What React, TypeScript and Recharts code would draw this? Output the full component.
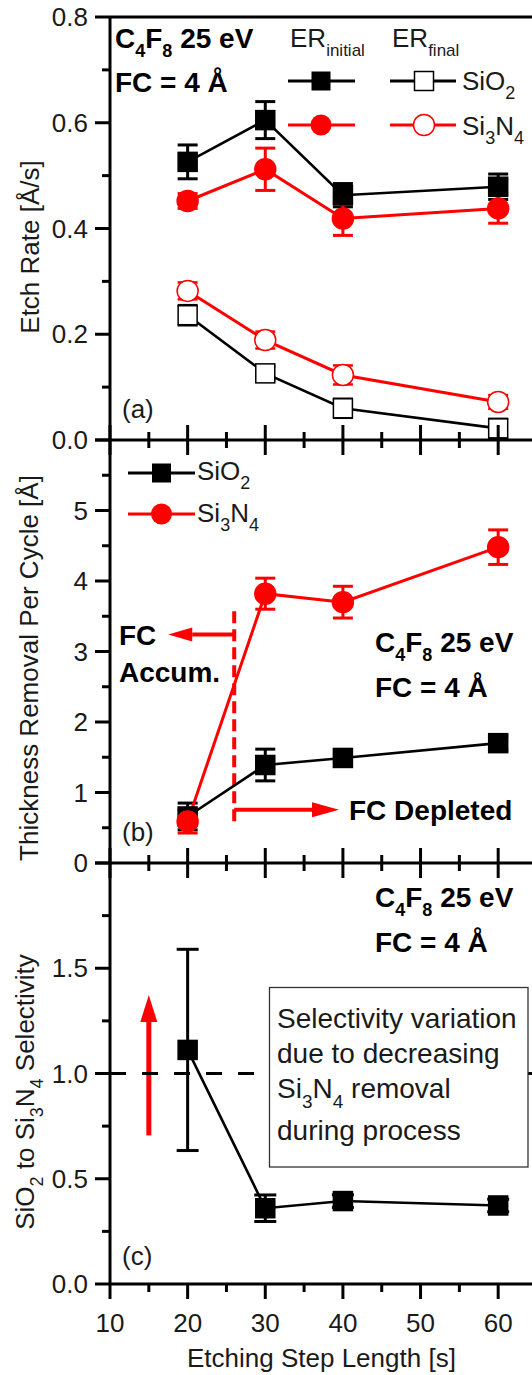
import React from "react";
import { ComposedChart, Line, XAxis, YAxis, ErrorBar, ReferenceLine } from "recharts";

// etching step length [s]
const steps = [20, 30, 40, 60];

// (a) etch rate [Å/s]
const sio2Initial = [0.526, 0.605, 0.463, 0.479];
const sio2InitialErr = [0.032, 0.035, 0.022, 0.024];
const si3n4Initial = [0.452, 0.512, 0.419, 0.438];
const si3n4InitialErr = [0.014, 0.04, 0.032, 0.028];
const sio2Final = [0.236, 0.126, 0.06, 0.022];
const sio2FinalErr = [0.019, 0.013, 0.018, 0.018];
const si3n4Final = [0.282, 0.189, 0.123, 0.072];
const si3n4FinalErr = [0.016, 0.016, 0.018, 0.013];

// (b) thickness removal per cycle [Å]
const sio2Removal = [0.66, 1.39, 1.49, 1.7];
const sio2RemovalErr = [0.19, 0.225, 0.05, 0.1];
const si3n4Removal = [0.59, 3.82, 3.7, 4.48];
const si3n4RemovalErr = [0.165, 0.22, 0.225, 0.245];

// (c) SiO2 to Si3N4 selectivity
const selectivity = [1.112, 0.36, 0.394, 0.373];
const selectivityErr = [0.478, 0.063, 0.03, 0.03];

const xTicks = [10, 15, 20, 25, 30, 35, 40, 45, 50, 55, 60, 65];
const xLabels = [10, 20, 30, 40, 50, 60];
const yTicksA = [0, 0.1, 0.2, 0.3, 0.4, 0.5, 0.6, 0.7, 0.8];
const yLabelsA = [0, 0.2, 0.4, 0.6, 0.8];
const yTicksB = [0, 0.5, 1, 1.5, 2, 2.5, 3, 3.5, 4, 4.5, 5, 5.5, 6];
const yLabelsB = [0, 1, 2, 3, 4, 5];
const yMajorB = [0, 1, 2, 3, 4, 5, 6];
const yTicksC = [0, 0.25, 0.5, 0.75, 1, 1.25, 1.5, 1.75, 2];
const yLabelsC = [0, 0.5, 1, 1.5];
const yMajorC = [0, 0.5, 1, 1.5, 2];

const tableA = steps.map((step, i) => ({
  step,
  sio2Init: sio2Initial[i],
  sio2InitErr: sio2InitialErr[i],
  si3n4Init: si3n4Initial[i],
  si3n4InitErr: si3n4InitialErr[i],
  sio2Fin: sio2Final[i],
  sio2FinErr: sio2FinalErr[i],
  si3n4Fin: si3n4Final[i],
  si3n4FinErr: si3n4FinalErr[i],
}));
const tableB = steps.map((step, i) => ({
  step,
  sio2: sio2Removal[i],
  sio2Err: sio2RemovalErr[i],
  si3n4: si3n4Removal[i],
  si3n4Err: si3n4RemovalErr[i],
}));
const tableC = steps.map((step, i) => ({ step, sel: selectivity[i], selErr: selectivityErr[i] }));

const font = "'Liberation Sans', Arial, sans-serif";
const RED = "#ff0000";
const INK = "#1a1a1a";
const has = (list: number[], v: number) => list.some((l) => Math.abs(l - v) < 1e-6);

const xTick = (cross: boolean, labels: boolean) => (p: any) => {
  const v = p.payload.value;
  const major = v % 10 === 0;
  const len = major ? 15 : 8;
  return (
    <g key={`xt${v}`}>
      <line x1={p.x} x2={p.x} y1={cross ? p.y - len : p.y} y2={p.y + len} stroke="#000" strokeWidth={3} />
      {labels && has(xLabels, v) && (
        <text x={p.x} y={p.y + 48} textAnchor="middle" fontSize={26} fill={INK} fontFamily={font}>
          {v}
        </text>
      )}
    </g>
  );
};

const yTick = (labels: number[], majors: number[], digits: number) => (p: any) => {
  const v = p.payload.value;
  const len = has(majors, v) ? 15 : 8;
  return (
    <g key={`yt${v}`}>
      <line x1={p.x - len} x2={p.x} y1={p.y} y2={p.y} stroke="#000" strokeWidth={3} />
      {has(labels, v) && (
        <text x={p.x - 22} y={p.y + 9} textAnchor="end" fontSize={26} fill={INK} fontFamily={font}>
          {v.toFixed(digits)}
        </text>
      )}
    </g>
  );
};

const square = (fill: string) => (p: any) =>
  p.cx == null ? (
    <g key={`n${p.index}`} />
  ) : (
    <rect key={`s${p.index}`} x={p.cx - 9.5} y={p.cy - 9.5} width={19} height={19} fill={fill} stroke="#000" strokeWidth={1.5} />
  );

const circle = (fill: string) => (p: any) =>
  p.cx == null ? (
    <g key={`n${p.index}`} />
  ) : (
    <circle key={`c${p.index}`} cx={p.cx} cy={p.cy} r={10.5} fill={fill} stroke={RED} strokeWidth={1.5} />
  );

// line with a filled arrow head at the second point
const arrow = (w: number, head: number, half: number, color: string) => (p: any) => {
  const { x1, y1, x2, y2 } = p;
  const L = Math.hypot(x2 - x1, y2 - y1) || 1;
  const ux = (x2 - x1) / L;
  const uy = (y2 - y1) / L;
  const bx = x2 - ux * head;
  const by = y2 - uy * head;
  return (
    <g>
      <line x1={x1} y1={y1} x2={bx} y2={by} stroke={color} strokeWidth={w} />
      <polygon
        points={`${x2},${y2} ${bx - uy * half},${by + ux * half} ${bx + uy * half},${by - ux * half}`}
        fill={color}
      />
    </g>
  );
};

const axisLine = { stroke: "#000", strokeWidth: 3 };

export default function App() {
  const xProps = {
    type: "number" as const,
    dataKey: "step",
    domain: [10, 65],
    ticks: xTicks,
    interval: 0,
    allowDataOverflow: true,
    axisLine,
    tickLine: false,
    tickSize: 0,
    tickMargin: 0,
  };
  const yProps = {
    type: "number" as const,
    allowDataOverflow: true,
    interval: 0,
    width: 110,
    axisLine,
    tickLine: false,
    tickSize: 0,
    tickMargin: 0,
  };
  const margin = { top: 17, right: 0, bottom: 0, left: 0 };
  const bold = { fontFamily: font, fontWeight: 700, fontSize: 28, fill: "#000" };
  const reg = { fontFamily: font, fontSize: 26, fill: INK };

  return (
    <div style={{ position: "absolute", left: 0, top: 0, width: 532, height: 1375, overflow: "hidden", background: "#fff" }}>
      {/* (a) */}
      <div style={{ position: "absolute", left: 0, top: 0 }}>
        <ComposedChart width={537} height={470} data={tableA} margin={margin}>
          <XAxis {...xProps} height={30} tick={xTick(true, false)} />
          <YAxis {...yProps} domain={[0, 0.8]} ticks={yTicksA} tick={yTick(yLabelsA, yLabelsA, 1)} />
          <ReferenceLine y={0.8} stroke="#000" strokeWidth={3} />
          <Line type="linear" dataKey="sio2Init" stroke="#000" strokeWidth={2.6} dot={square("#000")} activeDot={false} isAnimationActive={false}>
            <ErrorBar dataKey="sio2InitErr" direction="y" width={10} stroke="#000" strokeWidth={3} />
          </Line>
          <Line type="linear" dataKey="si3n4Init" stroke={RED} strokeWidth={3} dot={circle(RED)} activeDot={false} isAnimationActive={false}>
            <ErrorBar dataKey="si3n4InitErr" direction="y" width={10} stroke={RED} strokeWidth={3} />
          </Line>
          <Line type="linear" dataKey="sio2Fin" stroke="#000" strokeWidth={2.6} dot={square("#fff")} activeDot={false} isAnimationActive={false} />
          <Line type="linear" dataKey="si3n4Fin" stroke={RED} strokeWidth={3} dot={circle("#fff")} activeDot={false} isAnimationActive={false} />
          <Line type="linear" dataKey="sio2Fin" stroke="none" dot={false} activeDot={false} legendType="none" isAnimationActive={false}>
            <ErrorBar dataKey="sio2FinErr" direction="y" width={10} stroke="#000" strokeWidth={2.5} />
          </Line>
          <Line type="linear" dataKey="si3n4Fin" stroke="none" dot={false} activeDot={false} legendType="none" isAnimationActive={false}>
            <ErrorBar dataKey="si3n4FinErr" direction="y" width={10} stroke={RED} strokeWidth={2.5} />
          </Line>
        </ComposedChart>
      </div>

      {/* (b) */}
      <div style={{ position: "absolute", left: 0, top: 423 }}>
        <ComposedChart width={537} height={470} data={tableB} margin={margin}>
          <XAxis {...xProps} height={30} tick={xTick(true, false)} />
          <YAxis {...yProps} domain={[0, 6]} ticks={yTicksB} tick={yTick(yLabelsB, yMajorB, 0)} />
          <ReferenceLine
            segment={[{ x: 26, y: 3.57 }, { x: 26, y: 0.57 }]}
            stroke={RED}
            strokeWidth={4}
            strokeDasharray="12 6"
            ifOverflow="visible"
          />
          <ReferenceLine segment={[{ x: 26, y: 3.24 }, { x: 17.5, y: 3.24 }]} ifOverflow="visible" shape={arrow(4, 24, 7, RED)} />
          <ReferenceLine segment={[{ x: 26, y: 0.755 }, { x: 39.5, y: 0.755 }]} ifOverflow="visible" shape={arrow(4, 27, 7.5, RED)} />
          <Line type="linear" dataKey="sio2" stroke="#000" strokeWidth={2.6} dot={square("#000")} activeDot={false} isAnimationActive={false}>
            <ErrorBar dataKey="sio2Err" direction="y" width={10} stroke="#000" strokeWidth={3} />
          </Line>
          <Line type="linear" dataKey="si3n4" stroke={RED} strokeWidth={3} dot={circle(RED)} activeDot={false} isAnimationActive={false}>
            <ErrorBar dataKey="si3n4Err" direction="y" width={10} stroke={RED} strokeWidth={3} />
          </Line>
        </ComposedChart>
      </div>

      {/* (c) */}
      <div style={{ position: "absolute", left: 0, top: 846 }}>
        <ComposedChart width={537} height={529} data={tableC} margin={margin}>
          <XAxis {...xProps} height={91} tick={xTick(false, true)} />
          <YAxis {...yProps} domain={[0, 2]} ticks={yTicksC} tick={yTick(yLabelsC, yMajorC, 1)} />
          <ReferenceLine segment={[{ x: 15, y: 0.706 }, { x: 15, y: 1.373 }]} ifOverflow="visible" shape={arrow(5, 27, 8.5, RED)} />
          <ReferenceLine y={1} stroke="#000" strokeWidth={3} strokeDasharray="16 16" />
          <Line type="linear" dataKey="sel" stroke="#000" strokeWidth={2.6} dot={square("#000")} activeDot={false} isAnimationActive={false}>
            <ErrorBar dataKey="selErr" direction="y" width={11} stroke="#000" strokeWidth={3} />
          </Line>
        </ComposedChart>
      </div>

      {/* annotations */}
      <svg width={532} height={1375} style={{ position: "absolute", left: 0, top: 0, pointerEvents: "none" }}>
        {/* axis titles */}
        <text {...reg} x={39} y={247} textAnchor="middle" transform="rotate(-90 39 247)">
          Etch Rate [Å/s]
        </text>
        <text {...reg} x={37.5} y={668} textAnchor="middle" transform="rotate(-90 37.5 668)">
          Thickness Removal Per Cycle [Å]
        </text>
        <text {...reg} x={34} y={1092} textAnchor="middle" transform="rotate(-90 34 1092)">
          SiO<tspan fontSize={18} dy={9}>2</tspan>
          <tspan dy={-9}> to Si</tspan>
          <tspan fontSize={18} dy={9}>3</tspan>
          <tspan dy={-9}>N</tspan>
          <tspan fontSize={18} dy={9}>4</tspan>
          <tspan dy={-9}> Selectivity</tspan>
        </text>
        <text {...reg} x={187} y={1367}>
          Etching Step Length [s]
        </text>

        {/* (a) labels and legend */}
        <text {...bold} x={115} y={48}>
          C<tspan fontSize={18} dy={9}>4</tspan>
          <tspan dy={-9}>F</tspan>
          <tspan fontSize={18} dy={9}>8</tspan>
          <tspan dy={-9}> 25 eV</tspan>
        </text>
        <text {...bold} x={115} y={92}>
          FC = 4 Å
        </text>
        <text {...reg} x={290} y={47}>
          ER<tspan fontSize={17} dy={9}>initial</tspan>
        </text>
        <text {...reg} x={392} y={47}>
          ER<tspan fontSize={17} dy={9}>final</tspan>
        </text>
        <line x1={288} x2={355} y1={81} y2={81} stroke="#000" strokeWidth={3} />
        <rect x={311.5} y={71.5} width={19} height={19} fill="#000" />
        <line x1={390} x2={456} y1={81} y2={81} stroke="#000" strokeWidth={3} />
        <rect x={414.5} y={71.5} width={19} height={19} fill="#fff" stroke="#000" strokeWidth={1.5} />
        <text {...reg} x={462} y={90}>
          SiO<tspan fontSize={18} dy={9}>2</tspan>
        </text>
        <line x1={288} x2={355} y1={125} y2={125} stroke={RED} strokeWidth={3} />
        <circle cx={321} cy={125} r={10.5} fill={RED} />
        <line x1={390} x2={456} y1={125} y2={125} stroke={RED} strokeWidth={3} />
        <circle cx={424} cy={125} r={10.5} fill="#fff" stroke={RED} strokeWidth={1.5} />
        <text {...reg} x={462} y={135}>
          Si<tspan fontSize={18} dy={9}>3</tspan>
          <tspan dy={-9}>N</tspan>
          <tspan fontSize={18} dy={9}>4</tspan>
        </text>
        <text {...reg} x={122} y={418}>
          (a)
        </text>

        {/* (b) labels and legend */}
        <line x1={128} x2={195} y1={473} y2={473} stroke="#000" strokeWidth={3} />
        <rect x={152} y={463.5} width={19} height={19} fill="#000" />
        <text {...reg} x={197} y={480}>
          SiO<tspan fontSize={18} dy={9}>2</tspan>
        </text>
        <line x1={128} x2={195} y1={514} y2={514} stroke={RED} strokeWidth={3} />
        <circle cx={161.5} cy={514} r={10.5} fill={RED} />
        <text {...reg} x={197} y={522}>
          Si<tspan fontSize={18} dy={9}>3</tspan>
          <tspan dy={-9}>N</tspan>
          <tspan fontSize={18} dy={9}>4</tspan>
        </text>
        <text {...bold} x={119} y={645}>
          FC
        </text>
        <text {...bold} x={119} y={682}>
          Accum.
        </text>
        <text {...bold} x={375} y={652}>
          C<tspan fontSize={18} dy={9}>4</tspan>
          <tspan dy={-9}>F</tspan>
          <tspan fontSize={18} dy={9}>8</tspan>
          <tspan dy={-9}> 25 eV</tspan>
        </text>
        <text {...bold} x={375} y={697}>
          FC = 4 Å
        </text>
        <text {...bold} x={349} y={820}>
          FC Depleted
        </text>
        <text {...reg} x={122} y={841}>
          (b)
        </text>

        {/* (c) labels and box */}
        <text {...bold} x={375} y={907}>
          C<tspan fontSize={18} dy={9}>4</tspan>
          <tspan dy={-9}>F</tspan>
          <tspan fontSize={18} dy={9}>8</tspan>
          <tspan dy={-9}> 25 eV</tspan>
        </text>
        <text {...bold} x={375} y={952}>
          FC = 4 Å
        </text>
        <rect x={269.5} y={987.5} width={258.5} height={179.5} fill="#fff" stroke="#333" strokeWidth={1.3} />
        <text {...reg} fontSize={28} x={277} y={1028}>
          Selectivity variation
        </text>
        <text {...reg} fontSize={28} x={277} y={1063}>
          due to decreasing
        </text>
        <text {...reg} fontSize={28} x={277} y={1098}>
          Si<tspan fontSize={19} dy={10}>3</tspan>
          <tspan dy={-10}>N</tspan>
          <tspan fontSize={19} dy={10}>4</tspan>
          <tspan dy={-10}> removal</tspan>
        </text>
        <text {...reg} fontSize={28} x={277} y={1140}>
          during process
        </text>
        <text {...reg} x={122} y={1265}>
          (c)
        </text>
      </svg>
    </div>
  );
}
